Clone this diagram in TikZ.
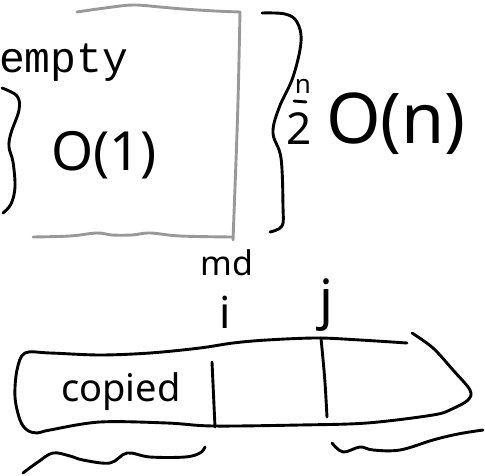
\documentclass[tikz,border=0pt]{standalone}
\usepackage{fontspec}
\setmainfont{Noto Sans}
\newfontfamily\monofont{Liberation Mono}
\begin{document}
\begin{tikzpicture}[x=1pt,y=-1pt,
  ink/.style={line width=2.9pt, line cap=round, line join=round},
  pen/.style={ink, draw=black},
  pencil/.style={ink, draw=black!40},
  hand/.style={inner sep=0pt, text=black},
]
\useasboundingbox (0,0) rectangle (485,476);

% gray box
\draw[pencil] plot[smooth, tension=0.6] coordinates {(77,12) (105,8) (133,5) (160,7) (183,9) (215,11) (240,12)};
\draw[pencil] (240,12) .. controls (238,110) .. (233,240);
\draw[pencil] plot[smooth, tension=0.6] coordinates {(33,237) (70,236) (97,233) (112,235) (132,235) (150,233) (180,236) (232,237)};

% "empty"
\node[hand, anchor=base west, font=\monofont\fontsize{43}{43}\selectfont] (empty) at (-1,73) {empty};

% left brace
\draw[pen] plot[smooth, tension=0.6] coordinates {(2,88) (17,96) (19,110) (11,133) (9,147) (13,162) (15,187) (11,204) (3,213)};

% O(1)
\node[hand, font=\fontsize{54}{54}\selectfont] (o1) at (104,155) {O(1)};

% right brace
\draw[pen] plot[smooth, tension=0.6] coordinates {(262,13) (285,14) (297,22) (301,42) (293,77) (279,108) (273,133) (281,158) (283,207) (282,226) (270,232)};

% n/2 O(n)
\node[hand, font=\fontsize{26}{26}\selectfont] (nnum) at (303,86) {n};
\draw[pen] (294,101) -- (306,102);
\node[hand, font=\fontsize{44}{44}\selectfont] (nden) at (299,129) {2};
\node[hand, font=\fontsize{70}{70}\selectfont] (on) at (396,124) {O(n)};

% labels above the array
\node[hand, font=\fontsize{34}{34}\selectfont] (mid) at (227,263) {md};
\node[hand, font=\fontsize{44}{44}\selectfont] (iname) at (225,312) {i};
\node[hand, font=\fontsize{54}{54}\selectfont] (jname) at (326,305) {j};

% array outline
\draw[pen] plot[smooth, tension=0.55] coordinates {
  (407,343) (360,340) (317,338) (267,340) (233,343) (200,348) (150,353) (100,355) (50,353) (25,353)
  (17,370) (15,397) (20,420) (27,430) (37,433) (50,430)
  (100,422) (167,423) (213,426) (300,425) (367,423) (433,415)
  (452,409) (468,400) (470,390) (453,370) (433,348) (412,333)};
\draw[pen] (212,362) .. controls (213,395) .. (215,427);
\draw[pen] (321,338) .. controls (325,380) .. (327,417);

\node[hand, font=\fontsize{38}{38}\selectfont] (copied) at (121,392) {copied};

% squiggles under the array
\draw[pen] plot[smooth, tension=0.6] coordinates {(23,473) (38,462) (53,453) (70,456) (83,460) (110,463) (127,453) (150,457) (185,457) (200,453) (205,447)};
\draw[pen] plot[smooth, tension=0.6] coordinates {(332,443) (343,452) (360,447) (373,450) (400,450) (433,440) (458,434) (483,430)};
\end{tikzpicture}
\end{document}
